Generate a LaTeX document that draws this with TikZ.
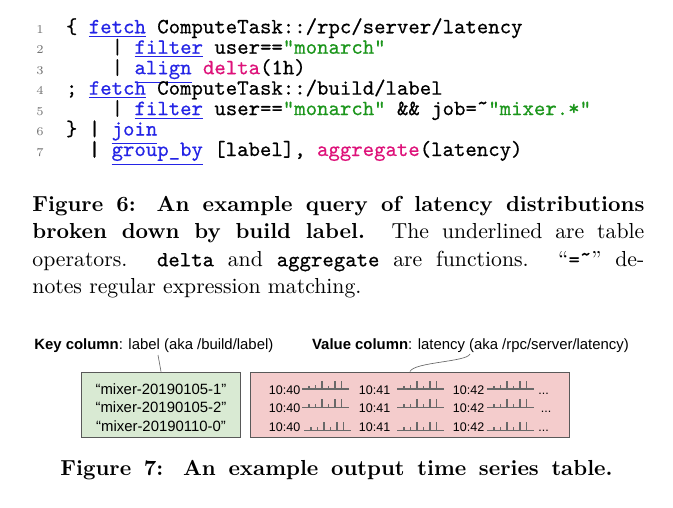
\documentclass[tikz,border=0pt]{standalone}
\usepackage{fontspec}
\newfontfamily\gdsans{Liberation Sans}
\newfontfamily\qcode[FakeBold=0.5]{Latin Modern Mono}
\definecolor{opblue}{RGB}{36,36,230}
\definecolor{strgreen}{RGB}{28,150,28}
\definecolor{fnpink}{RGB}{222,18,122}
\definecolor{keyfill}{RGB}{217,234,211}
\definecolor{valfill}{RGB}{244,204,204}
\definecolor{boxline}{RGB}{89,89,89}
\definecolor{sparkgray}{RGB}{105,105,105}
\newcommand\qop[1]{\textcolor{opblue}{\underline{#1}}}
\newcommand\qstr[1]{\textcolor{strgreen}{#1}}
\newcommand\qfn[1]{\textcolor{fnpink}{#1}}
\newcommand\qtilde{\char"02DC}

\begin{document}
\begin{tikzpicture}[
            x=0.46pt, y=-0.46pt,
            qline/.style={
                anchor=base west, inner sep=0pt, outer sep=0pt,
                font=\qcode\fontsize{10}{12}\selectfont\frenchspacing,
            },
            lineno/.style={
                anchor=base, inner sep=0pt, text=black!55,
                font=\fontsize{5.5}{6.5}\selectfont,
            },
            figcap/.style={inner sep=0pt, font=\fontsize{10}{12.6}\selectfont},
            colname/.style={
                anchor=base west, inner sep=0pt,
                font=\gdsans\fontsize{6.85}{8}\selectfont,
            },
            keyname/.style={
                anchor=base, inner sep=0pt,
                font=\gdsans\fontsize{6.85}{8}\selectfont,
            },
            stamp/.style={
                anchor=base west, inner sep=0pt,
                font=\gdsans\fontsize{5.75}{7}\selectfont,
            },
            colbox/.style={
                draw=boxline, line width=0.45pt, fill=#1,
                inner sep=0pt, minimum height=30.1pt,
            },
            leader/.style={draw=black!60, line width=0.3pt},
            spark/.pic={
                \draw[sparkgray, line width=0.65pt] (0,0) -- (47,0)
                    (7,0) -- (7,-3.5) (13.5,0) -- (13.5,-4) (20,0) -- (20,-8.5)
                    (26.5,0) -- (26.5,-3.5) (33,0) -- (33,-8.5) (39.5,0) -- (39.5,-8.5);
            },
        ]
        \path[use as bounding box, fill=white] (0, 0) rectangle (673, 508);

        % query listing
        \draw node[lineno] (n1) at (40, 33.3) {1};
        \draw node[lineno] (n2) at (40, 53.75) {2};
        \draw node[lineno] (n3) at (40, 74.2) {3};
        \draw node[lineno] (n4) at (40, 94.65) {4};
        \draw node[lineno] (n5) at (40, 115.1) {5};
        \draw node[lineno] (n6) at (40, 135.55) {6};
        \draw node[lineno] (n7) at (40, 156) {7};

        \draw node[qline] (c1) at (66, 33.3) {\{ \qop{fetch} ComputeTask::/rpc/server/latency};
        \draw node[qline] (c2) at (111.7, 53.75) {| \qop{filter} user==\qstr{"monarch"}};
        \draw node[qline] (c3) at (111.7, 74.2) {| \qop{align} \qfn{delta}(1h)};
        \draw node[qline] (c4) at (66, 94.65) {; \qop{fetch} ComputeTask::/build/label};
        \draw node[qline] (c5) at (111.7, 115.1) {| \qop{filter} user==\qstr{"monarch"} \&\& job=\qtilde\qstr{"mixer.*"}};
        \draw node[qline] (c6) at (66, 135.55) {\} | \qop{join}};
        \draw node[qline] (c7) at (88.8, 156) {| \qop{group\_by} [label], \qfn{aggregate}(latency)};

        % captions
        \draw node[figcap, anchor=north west, text width=281.5pt, align=justify] (fig6) at (32, 195.9)
            {\textbf{Figure 6: An example query of latency distributions\linebreak
            broken down by build label.} The underlined are table\linebreak
            operators. {\qcode delta} and {\qcode aggregate} are functions.
            ``{\qcode =\qtilde}'' de-\linebreak notes regular expression matching.};
        \draw node[figcap, anchor=base west] (fig7) at (60, 475)
            {\makebox[254pt][s]{\bfseries Figure 7: An example output time series table.}};

        % key column
        \draw node[colname] (keylab) at (34, 349) {\textbf{Key column}: label (aka /build/label)};
        \draw node[colbox=keyfill, minimum width=72.7pt] (keycol) at (161, 404.75) {};
        \draw node[keyname] (k1) at (161, 394) {“mixer-20190105-1”};
        \draw node[keyname] (k2) at (161, 412.5) {“mixer-20190105-2”};
        \draw node[keyname] (k3) at (161, 431) {“mixer-20190110-0”};
        \coordinate (keytip) at (158, 355);
        \draw[leader] (keytip) -- (keycol.north);

        % value column
        \draw node[colname] (vallab) at (311.7, 349) {\textbf{Value column}: latency (aka /rpc/server/latency)};
        \draw node[colbox=valfill, minimum width=146.3pt] (valcol) at (410, 404.75) {};
        \coordinate (valtip) at (470, 354);
        \draw[leader] (valtip) .. controls (467, 362) and (414, 362) .. (valcol.north);

        \draw node[stamp] (s1) at (268.5, 394) {10:40};
        \draw node[stamp] (s2) at (358.5, 394) {10:41};
        \draw node[stamp] (s3) at (452.5, 394) {10:42};
        \draw node[stamp] (s4) at (268.5, 412.5) {10:40};
        \draw node[stamp] (s5) at (358.5, 412.5) {10:41};
        \draw node[stamp] (s6) at (452.5, 412.5) {10:42};
        \draw node[stamp] (s7) at (268.5, 431) {10:40};
        \draw node[stamp] (s8) at (358.5, 431) {10:41};
        \draw node[stamp] (s9) at (452.5, 431) {10:42};

        \pic at (302, 389) {spark};
        \pic at (397, 389) {spark};
        \pic at (487, 389) {spark};
        \pic at (302, 407.5) {spark};
        \pic at (397, 407.5) {spark};
        \pic at (487, 407.5) {spark};
        \pic at (304, 430.5) {spark};
        \pic at (397, 430.5) {spark};
        \pic at (487, 430.5) {spark};

        \draw node[stamp] (d1) at (538, 394) {...};
        \draw node[stamp] (d2) at (540.5, 412.5) {...};
        \draw node[stamp] (d3) at (538, 431) {...};
    \end{tikzpicture}
\end{document}
